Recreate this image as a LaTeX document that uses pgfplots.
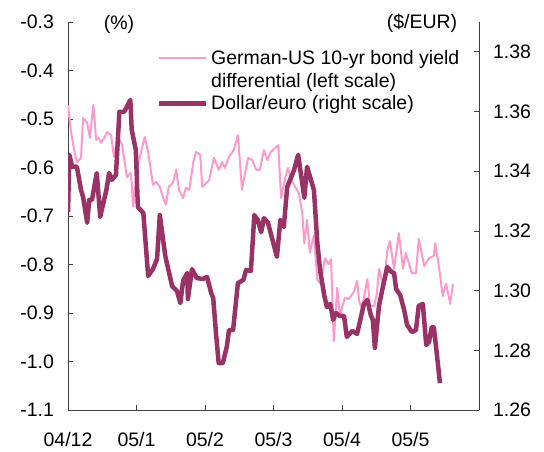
\documentclass[border=0pt]{standalone}
\usepackage{fontspec}
\setmainfont{Liberation Sans}
\usepackage{pgfplots}
\pgfplotsset{compat=1.18}

\definecolor{pinkline}{HTML}{FF99CC}
\definecolor{plum}{HTML}{993366}
\definecolor{axisgray}{HTML}{404040}

\pgfplotsset{
  common/.style={
    at={(68pt,42pt)}, anchor=south west,
    width=411pt, height=388pt, scale only axis,
    xmin=0, xmax=6,
    tick align=inside, major tick length=5pt,
    axis line style={axisgray, line width=0.8pt},
    tick style={axisgray, line width=0.8pt},
    /pgf/number format/assume math mode=true,
  }
}

\begin{document}
\begin{tikzpicture}[font=\fontsize{19.5}{23}\selectfont]
\useasboundingbox (0,0) rectangle (544pt,452pt);

% left scale: yield differential
\begin{axis}[
  common,
  ymin=-1.1, ymax=-0.3,
  axis x line*=bottom, axis y line*=left,
  xtick={0,1,2,3,4,5},
  xticklabels={04/12,05/1,05/2,05/3,05/4,05/5},
  xticklabel style={yshift=-19pt},
  ytick={-1.1,-1,-0.9,-0.8,-0.7,-0.6,-0.5,-0.4,-0.3},
  yticklabel style={xshift=-10.5pt, /pgf/number format/.cd, fixed, fixed zerofill, precision=1},
]
\addplot[pinkline, line width=2pt, line join=round] coordinates {
(0.00,-0.471) (0.04,-0.523) (0.09,-0.564) (0.13,-0.589) (0.19,-0.580)
(0.22,-0.498) (0.28,-0.508) (0.32,-0.539) (0.37,-0.471) (0.41,-0.543)
(0.45,-0.539) (0.48,-0.549) (0.53,-0.539) (0.57,-0.527) (0.63,-0.533)
(0.67,-0.578) (0.73,-0.537) (0.79,-0.554) (0.86,-0.620) (0.92,-0.611)
(0.95,-0.681) (1.01,-0.605) (1.05,-0.578) (1.12,-0.537) (1.17,-0.568)
(1.24,-0.636) (1.29,-0.630) (1.34,-0.640) (1.39,-0.663) (1.43,-0.677)
(1.47,-0.640) (1.53,-0.632) (1.58,-0.605) (1.62,-0.646) (1.68,-0.663)
(1.72,-0.642) (1.77,-0.646) (1.83,-0.589) (1.87,-0.568) (1.93,-0.574)
(1.96,-0.640) (2.06,-0.626) (2.13,-0.580) (2.20,-0.605) (2.25,-0.589)
(2.29,-0.601) (2.35,-0.578) (2.42,-0.564) (2.48,-0.533) (2.54,-0.646)
(2.57,-0.622) (2.63,-0.580) (2.69,-0.585) (2.75,-0.605) (2.80,-0.605)
(2.86,-0.564) (2.91,-0.585) (2.96,-0.568) (3.07,-0.554) (3.11,-0.663)
(3.17,-0.622) (3.21,-0.601) (3.26,-0.626) (3.37,-0.653) (3.42,-0.694)
(3.45,-0.756) (3.49,-0.708) (3.53,-0.776) (3.59,-0.739) (3.64,-0.832)
(3.69,-0.840) (3.75,-0.787) (3.80,-0.799) (3.84,-0.789) (3.88,-0.958)
(3.93,-0.848) (3.97,-0.906) (4.04,-0.869) (4.10,-0.871) (4.18,-0.855)
(4.22,-0.834) (4.25,-0.875) (4.29,-0.892) (4.37,-0.830) (4.41,-0.886)
(4.47,-0.886) (4.51,-0.859) (4.54,-0.809) (4.61,-0.848) (4.66,-0.772)
(4.70,-0.752) (4.76,-0.809) (4.83,-0.735) (4.89,-0.809) (4.93,-0.776)
(5.02,-0.818) (5.08,-0.818) (5.12,-0.747) (5.20,-0.803) (5.27,-0.787)
(5.34,-0.782) (5.36,-0.756) (5.42,-0.809) (5.47,-0.865) (5.52,-0.840)
(5.58,-0.881) (5.62,-0.840)
};
\end{axis}

% right scale: dollar/euro
\begin{axis}[
  common,
  ymin=1.26, ymax=1.39,
  axis x line=none, axis y line*=right,
  ytick={1.26,1.28,1.30,1.32,1.34,1.36,1.38},
  yticklabel style={xshift=10.5pt, /pgf/number format/.cd, fixed, fixed zerofill, precision=2},
  legend style={draw=none, fill=none, at={(0.2165,0.93)}, anchor=north west,
    inner sep=0pt, row sep=5pt, nodes={inner xsep=2.5pt, inner ysep=1pt}},
  legend cell align=left,
  legend image code/.code={\draw[#1] (0pt,0pt) -- (47pt,0pt);},
]
\addlegendimage{pinkline, line width=2pt}
\addlegendentry{German-US 10-yr bond yield}
\addlegendimage{empty legend}
\addlegendentry{differential (left scale)}
\addplot[plum, line width=4.5pt, line join=round] coordinates {
(0.00,1.3263) (0.02,1.3455) (0.06,1.3415) (0.13,1.3415) (0.19,1.3337)
(0.22,1.3314) (0.28,1.3227) (0.31,1.3304) (0.35,1.3304) (0.42,1.3394)
(0.47,1.3247) (0.56,1.3337) (0.60,1.3394) (0.64,1.3371) (0.70,1.3388)
(0.75,1.3599) (0.82,1.3599) (0.91,1.3639) (0.93,1.3539) (0.99,1.3471)
(1.02,1.3280) (1.10,1.3260) (1.17,1.3049) (1.24,1.3072) (1.30,1.3106)
(1.34,1.3253) (1.42,1.3116) (1.52,1.3015) (1.59,1.2999) (1.64,1.2958)
(1.68,1.3032) (1.74,1.3059) (1.75,1.2972) (1.81,1.3072) (1.88,1.3042)
(1.97,1.3039) (2.03,1.3046) (2.09,1.2992) (2.12,1.2975) (2.16,1.2858)
(2.20,1.2757) (2.26,1.2757) (2.32,1.2814) (2.35,1.2868) (2.41,1.2868)
(2.48,1.3025) (2.56,1.3036) (2.60,1.3069) (2.67,1.3066) (2.72,1.3253)
(2.77,1.3237) (2.82,1.3196) (2.86,1.3243) (2.92,1.3227) (3.05,1.3113)
(3.10,1.3237) (3.15,1.3213) (3.20,1.3347) (3.30,1.3404) (3.36,1.3455)
(3.45,1.3311) (3.49,1.3415) (3.59,1.3337) (3.64,1.3160) (3.68,1.3069)
(3.74,1.2985) (3.78,1.2945) (3.83,1.2955) (3.87,1.2902) (3.91,1.2925)
(3.97,1.2915) (4.03,1.2915) (4.07,1.2845) (4.15,1.2865) (4.22,1.2855)
(4.26,1.2895) (4.32,1.2955) (4.37,1.2969) (4.42,1.2918) (4.45,1.2902)
(4.48,1.2808) (4.54,1.2949) (4.60,1.3016) (4.66,1.3079) (4.72,1.3063)
(4.76,1.3059) (4.79,1.3005) (4.85,1.2985) (4.91,1.2932) (4.95,1.2885)
(5.02,1.2861) (5.08,1.2868) (5.12,1.2949) (5.18,1.2955) (5.23,1.2818)
(5.27,1.2828) (5.31,1.2878) (5.34,1.2878) (5.37,1.2818) (5.43,1.2690)
};
\addlegendentry{Dollar/euro (right scale)}
\end{axis}

\node at (119pt,428pt) {(\%)};
\node at (422pt,429pt) {(\$/EUR)};
\end{tikzpicture}
\end{document}
